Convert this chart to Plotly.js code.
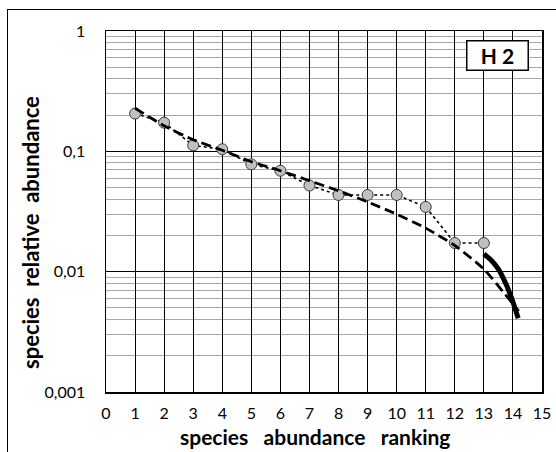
<!DOCTYPE html>
<html>
<head>
<meta charset="utf-8">
<script src="https://cdn.plot.ly/plotly-3.0.1.min.js"></script>
<style>
  html, body { margin: 0; padding: 0; background: #fff; overflow: hidden; }
  #wrap { position: relative; width: 556px; height: 452px; }
  #chart { position: absolute; left: 0; top: 0; width: 556px; height: 452px; }
  #frame { position: absolute; left: 7px; top: 9px; width: 600px; height: 500px;
           border-left: 1.5px solid #000; border-top: 1.5px solid #000; pointer-events: none; }
</style>
</head>
<body>
<div id="wrap">
  <div id="chart"></div>
  <div id="frame"></div>
</div>
<script>
// Observed rank-abundance for plot H 2
const ranks = [1, 2, 3, 4, 5, 6, 7, 8, 9, 10, 11, 12, 13];
const observed = [0.206, 0.173, 0.112, 0.104, 0.078, 0.069, 0.052, 0.0434, 0.0434, 0.0434, 0.0345, 0.0173, 0.0173];

// Expected (dashed) model curve
const modelRanks = [1, 2, 3, 4, 5, 6, 7, 8, 9, 10, 11, 12, 13, 13.66, 14.2];
const modelValues = [0.228, 0.163, 0.125, 0.102, 0.082, 0.069, 0.057, 0.047, 0.038, 0.030, 0.023, 0.0165, 0.0105, 0.0068, 0.0047];

// Tail curve (thick solid)
const tailRanks = [13, 13.26, 13.5, 13.78, 14, 14.18];
const tailValues = [0.014, 0.0124, 0.0105, 0.0077, 0.0056, 0.0041];

// Axis ticks
const xTicks = [0, 1, 2, 3, 4, 5, 6, 7, 8, 9, 10, 11, 12, 13, 14, 15];
const yTickVals = [0.001, 0.01, 0.1, 1];
const yTickText = ['0,001', '0,01', '0,1', '1'];

const font = 'Lato, "Open Sans", sans-serif';

const traces = [
  {
    x: ranks, y: observed, type: 'scatter', mode: 'lines+markers',
    line: { color: '#000', width: 1.6, dash: 'dot' },
    marker: { size: 11, color: '#c0c0c0', line: { color: '#3a3a3a', width: 1 } },
    hoverinfo: 'x+y'
  },
  {
    x: modelRanks, y: modelValues, type: 'scatter', mode: 'lines',
    line: { color: '#000', width: 2.8, dash: '10px,5px', shape: 'spline', smoothing: 0.6 },
    hoverinfo: 'x+y'
  },
  {
    x: tailRanks, y: tailValues, type: 'scatter', mode: 'lines',
    line: { color: '#000', width: 5, shape: 'spline', smoothing: 0.8 },
    hoverinfo: 'x+y'
  }
];

const titleFont = { size: 21, family: font, weight: 'bold', color: '#000' };

const layout = {
  width: 556, height: 452,
  margin: { l: 106, r: 14, t: 31, b: 60 },
  paper_bgcolor: 'rgba(0,0,0,0)',
  plot_bgcolor: '#fff',
  showlegend: false,
  separators: ',.',
  font: { family: font, color: '#000' },
  xaxis: {
    range: [0, 15],
    tickmode: 'array', tickvals: xTicks,
    ticks: '', showgrid: true, gridcolor: '#000', gridwidth: 1,
    zeroline: false,
    showline: true, linecolor: '#000', linewidth: 1.5, mirror: true,
    tickfont: { size: 16, family: font, color: '#000' },
    ticklabelstandoff: 6
  },
  yaxis: {
    type: 'log', range: [-3, 0],
    tickmode: 'array', tickvals: yTickVals, ticktext: yTickText,
    ticks: '', showgrid: true, gridcolor: '#000', gridwidth: 1,
    minor: { dtick: 'D1', showgrid: true, gridcolor: '#a8a8a8', gridwidth: 1, ticks: '' },
    zeroline: false,
    showline: true, linecolor: '#000', linewidth: 1.5, mirror: true,
    tickfont: { size: 16, family: font, color: '#000' },
    ticklabelstandoff: 16
  },
  annotations: [
    {
      xref: 'paper', yref: 'paper', x: 0.898, y: 0.933, xanchor: 'center', yanchor: 'middle',
      text: '<b>H 2</b>', showarrow: false,
      font: { size: 21, family: font, color: '#000' },
      bgcolor: '#fff', bordercolor: '#000', borderwidth: 1.5,
      width: 58, height: 26
    },
    {
      // x-axis title
      xref: 'paper', yref: 'paper', x: (315 - 106) / 436, y: -(436 - 392) / 361,
      xanchor: 'center', yanchor: 'middle', showarrow: false,
      text: '<b>species&nbsp;&nbsp;&nbsp;abundance&nbsp;&nbsp;&nbsp;ranking</b>', font: titleFont
    },
    {
      // y-axis title
      xref: 'paper', yref: 'paper', x: -(106 - 30) / 436, y: (392 - 233) / 361,
      xanchor: 'center', yanchor: 'middle', showarrow: false, textangle: -90,
      text: '<b>species&nbsp;&nbsp;relative&nbsp;&nbsp;abundance</b>', font: { size: 22, family: font, weight: 'bold', color: '#000' }
    }
  ]
};

Plotly.newPlot('chart', traces, layout, { staticPlot: true, displayModeBar: false });
</script>
</body>
</html>
